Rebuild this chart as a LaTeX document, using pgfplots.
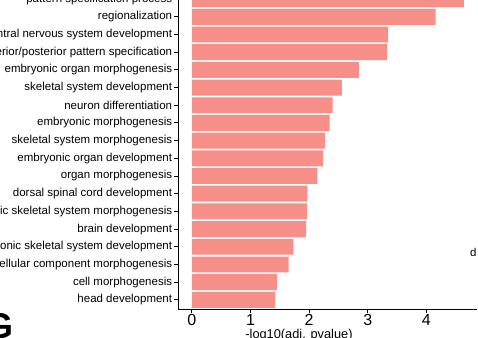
\documentclass[border=0pt]{standalone}
\usepackage{pgfplots}
\pgfplotsset{compat=1.18}
\usepackage{fontspec}
\setmainfont{Liberation Sans}
\definecolor{barcol}{RGB}{245,143,136}
\begin{document}
\begin{tikzpicture}[x=1pt,y=1pt]
\useasboundingbox (0,0) rectangle (478,337);
\clip (0,0) rectangle (478,337);
\fill[white] (0,0) rectangle (478,337);
\begin{axis}[
  at={(178.3pt,27.6pt)}, anchor=south west,
  scale only axis, width=299.1pt, height=320.9pt,
  xmin=-0.232, xmax=4.872, ymin=0.46, ymax=18.6,
  xbar, bar width=0.9,
  axis lines*=left,
  axis line style={line width=1.2pt, black},
  tick style={black, line width=1pt},
  major tick length=4pt, tick align=outside,
  xtick={0,1,2,3,4}, xticklabels={0,1,2,3,4},
  ytick={1,...,18},
  yticklabels={head development,cell morphogenesis,cellular component morphogenesis,embryonic skeletal system development,brain development,embryonic skeletal system morphogenesis,dorsal spinal cord development,organ morphogenesis,embryonic organ development,skeletal system morphogenesis,embryonic morphogenesis,neuron differentiation,skeletal system development,embryonic organ morphogenesis,anterior/posterior pattern specification,central nervous system development,regionalization,pattern specification process},
  yticklabel style={font=\fontsize{11.5}{12}\selectfont, inner sep=0pt, anchor=east, xshift=-2pt},
  xticklabel style={font=\fontsize{16}{17}\selectfont, inner sep=0pt, anchor=north, yshift=-0.5pt},
  clip=false,
]
\addplot[fill=barcol, draw=none] coordinates {
(1.42,1) (1.45,2) (1.65,3) (1.73,4) (1.95,5) (1.96,6) (1.97,7) (2.14,8) (2.24,9) (2.27,10)
(2.35,11) (2.40,12) (2.56,13) (2.85,14) (3.33,15) (3.35,16) (4.16,17) (4.64,18)};
\end{axis}
\node[anchor=base, inner sep=0pt, font=\fontsize{12.8}{14}\selectfont] at (299,-1.5) {-log10(adj. pvalue)};
\node[anchor=north east, inner sep=0pt, font=\bfseries\fontsize{36}{38}\selectfont] at (14,24) {G};
\node[anchor=base west, inner sep=0pt, font=\fontsize{11.4}{12}\selectfont] at (470,81) {d};
\end{tikzpicture}
\end{document}
